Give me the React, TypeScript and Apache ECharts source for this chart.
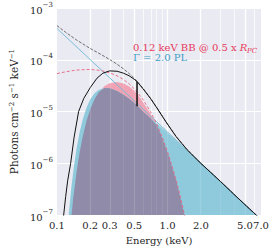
import React, { useEffect, useRef } from "react";
import * as echarts from "echarts";

const FONT = "'DejaVu Serif', serif";
const INK = "#262626";

// x tick labels / grid lines (keV)
const tickEnergies = [0.1, 0.2, 0.3, 0.5, 1.0, 2.0, 5.0, 7.0];
const majorGridEnergies = [0.2, 0.3, 0.5, 1, 2, 5];
const minorGridEnergies = [0.4, 0.6, 0.7, 0.8, 0.9, 3, 4, 6];
const yDecades = [1e-6, 1e-5, 1e-4];

// Gamma = 2 power law, unabsorbed (thin blue line)
const plE = [0.1, 0.3, 1, 3, 7];
const plUnabs = [4.03e-4, 4.48e-5, 4.03e-6, 4.48e-7, 8.2e-8];

// 0.12 keV blackbody, unabsorbed (pink dashed)
const bbE = [0.1, 0.12, 0.15, 0.2, 0.25, 0.3, 0.35, 0.4, 0.45, 0.5, 0.6, 0.7, 0.8, 0.9, 1.0, 1.1, 1.2, 1.3, 1.4, 1.5];
const bbUnabs = [5.4e-5, 5.87e-5, 6.33e-5, 6.52e-5, 6.2e-5, 5.6e-5, 4.9e-5, 4.15e-5, 3.42e-5, 2.76e-5, 1.71e-5, 1.0e-5, 5.7e-6, 3.1e-6, 1.68e-6, 8.8e-7, 4.6e-7, 2.33e-7, 1.17e-7, 5.9e-8];

// total unabsorbed (grey dashed)
const totE = [0.1, 0.12, 0.15, 0.2, 0.25, 0.3, 0.35, 0.4, 0.45, 0.5, 0.6, 0.7, 0.8, 0.9, 1.0, 1.2, 1.5, 2, 3, 5, 7];
const totUnabs = [4.57e-4, 3.39e-4, 2.42e-4, 1.65e-4, 1.27e-4, 1.01e-4, 8.2e-5, 6.67e-5, 5.4e-5, 4.37e-5, 2.83e-5, 1.82e-5, 1.2e-5, 8.1e-6, 5.7e-6, 3.26e-6, 1.85e-6, 1.0e-6, 4.5e-7, 1.6e-7, 8.2e-8];

// total absorbed (black)
const absE = [0.112, 0.115, 0.12, 0.125, 0.133, 0.143, 0.157, 0.175, 0.2, 0.23, 0.26, 0.3, 0.35, 0.4, 0.45, 0.5, 0.53, 0.53, 0.53, 0.6, 0.7, 0.8, 0.9, 1.0, 1.2, 1.5, 2.0, 3.0, 4.0, 5.0, 6.0, 7.0];
const absTotal = [6e-8, 1.0e-7, 2.3e-7, 4.6e-7, 1.0e-6, 3.2e-6, 1.0e-5, 1.8e-5, 2.9e-5, 4.4e-5, 5.5e-5, 6.1e-5, 6.0e-5, 5.5e-5, 4.9e-5, 4.2e-5, 3.8e-5, 1.27e-5, 3.8e-5, 2.75e-5, 1.8e-5, 1.18e-5, 8.0e-6, 5.7e-6, 3.25e-6, 1.84e-6, 1.0e-6, 4.5e-7, 2.5e-7, 1.6e-7, 1.12e-7, 8.2e-8];

// absorbed components (filled)
const fillE = [0.12, 0.127, 0.135, 0.14, 0.15, 0.16, 0.17, 0.185, 0.2, 0.22, 0.24, 0.27, 0.3, 0.35, 0.4, 0.45, 0.5, 0.53, 0.6, 0.7, 0.8, 0.9, 1.0, 1.2, 1.42, 1.5, 2, 3, 4, 5, 6, 7];
const plAbs = [2.0e-8, 9.0e-8, 3.4e-7, 6.6e-7, 1.84e-6, 3.9e-6, 6.7e-6, 1.19e-5, 1.72e-5, 2.29e-5, 2.65e-5, 2.86e-5, 2.81e-5, 2.49e-5, 2.1e-5, 1.76e-5, 1.48e-5, 1.33e-5, 1.0e-5, 7.5e-6, 5.9e-6, 4.76e-6, 3.9e-6, 2.74e-6, 1.98e-6, 1.77e-6, 1.0e-6, 4.48e-7, 2.52e-7, 1.61e-7, 1.12e-7, 8.2e-8];
const bbAbs = [4e-9, 2.2e-8, 9.3e-8, 2.0e-7, 6.5e-7, 1.59e-6, 3.1e-6, 6.6e-6, 1.11e-5, 1.77e-5, 2.39e-5, 3.11e-5, 3.52e-5, 3.71e-5, 3.47e-5, 3.03e-5, 2.53e-5, 2.24e-5, 1.52e-5, 9.2e-6, 5.4e-6, 2.96e-6, 1.62e-6, 4.5e-7, 1.0e-7, 5.8e-8, 2e-9, 1e-9, 1e-9, 1e-9, 1e-9, 1e-9];

const lx = (e: number) => Math.log10(e);
const pts = (es: number[], vs: number[]) => es.map((e, i) => [lx(e), vs[i]]);

export default function App() {
  const ref = useRef<HTMLDivElement>(null);
  useEffect(() => {
    if (!ref.current) return;
    const chart = echarts.init(ref.current, undefined, { renderer: "svg" });
    const overlap = plAbs.map((v, i) => Math.min(v, bbAbs[i]));
    const vLines = (color: string, majorW: number, minorW: number) => [
      ...majorGridEnergies.map((e) => ({ xAxis: lx(e), lineStyle: { color, width: majorW, type: "solid" } })),
      ...minorGridEnergies.map((e) => ({ xAxis: lx(e), lineStyle: { color, width: minorW, type: "solid" } })),
    ];
    const hLines = (color: string) => yDecades.map((v) => ({ yAxis: v, lineStyle: { color, width: 1.2, type: "solid" } }));
    const fill = (name: string, vs: number[], color: string, z: number) => ({
      name,
      type: "line",
      data: pts(fillE, vs),
      symbol: "none",
      lineStyle: { width: 0 },
      areaStyle: { color, opacity: 1, origin: "start" },
      z,
      silent: true,
    });
    const line = (name: string, es: number[], vs: number[], color: string, width: number, type: any, z: number) => ({
      name,
      type: "line",
      data: pts(es, vs),
      symbol: "none",
      lineStyle: { color, width, type },
      z,
      silent: true,
    });
    const supRich = {
      b: { fontFamily: FONT, fontSize: 10, color: INK, verticalAlign: "bottom", lineHeight: 14 },
      s: { fontFamily: FONT, fontSize: 7, color: INK, verticalAlign: "top", lineHeight: 8 },
    };
    chart.setOption({
      animation: false,
      grid: { left: 45, right: 13, top: 8, bottom: 31, show: true, backgroundColor: "#EAEAF2", borderWidth: 0 },
      xAxis: {
        type: "value",
        min: -1,
        max: Math.log10(7),
        axisLine: { show: false },
        axisTick: { show: false },
        splitLine: { show: false },
        axisLabel: {
          customValues: tickEnergies.map(lx),
          showMinLabel: true,
          showMaxLabel: true,
          formatter: (v: number) => Math.pow(10, v).toFixed(1),
          fontFamily: FONT,
          fontSize: 10,
          color: INK,
          margin: 5,
        },
        name: "Energy (keV)",
        nameLocation: "middle",
        nameGap: 15,
        nameTextStyle: { fontFamily: FONT, fontSize: 10, color: INK },
      },
      yAxis: {
        type: "log",
        logBase: 10,
        min: 1e-7,
        max: 1e-3,
        axisLine: { show: false },
        axisTick: { show: false },
        splitLine: { show: true, lineStyle: { color: "#ffffff", width: 1.2 } },
        axisLabel: {
          formatter: (v: number) => "{b|10}{s|−" + Math.round(-Math.log10(v)) + "}",
          rich: supRich,
          margin: 4,
        },
        name: "Photons cm{s|−2} s{s|−1} keV{s|−1}",
        nameLocation: "middle",
        nameGap: 32,
        nameRotate: 90,
        nameTextStyle: {
          fontFamily: FONT,
          fontSize: 10.5,
          color: INK,
          rich: {
            b: { fontFamily: FONT, fontSize: 10.5, color: INK, verticalAlign: "bottom", lineHeight: 14 },
            s: { fontFamily: FONT, fontSize: 7, color: INK, verticalAlign: "top", lineHeight: 8 },
          },
        },
      },
      series: [
        {
          name: "grid",
          type: "line",
          data: [],
          z: 1,
          silent: true,
          markLine: { z: 1, silent: true, symbol: ["none", "none"], label: { show: false }, data: vLines("#ffffff", 1.3, 0.7) },
        },
        fill("BB absorbed", bbAbs, "#F0A3B4", 2),
        fill("PL absorbed", plAbs, "#8FC9DC", 2),
        fill("overlap", overlap, "#8F8BA8", 2),
        {
          name: "grid faint",
          type: "line",
          data: [],
          z: 3,
          silent: true,
          markLine: {
            z: 3,
            silent: true,
            symbol: ["none", "none"],
            label: { show: false },
            data: [...vLines("rgba(255,255,255,0.13)", 1.3, 0.7), ...hLines("rgba(255,255,255,0.13)")],
          },
        },
        line("PL", plE, plUnabs, "#6DB9D6", 0.9, "solid", 4),
        line("BB", bbE, bbUnabs, "#E8637F", 0.9, [3, 2], 4),
        line("total unabsorbed", totE, totUnabs, "#4a4a4a", 0.8, [3, 1.5], 5),
        line("total absorbed", absE, absTotal, "#111111", 1, "solid", 6),
      ],
      graphic: [
        {
          type: "text",
          left: 133,
          top: 42,
          z: 10,
          style: {
            text: "0.12 keV BB @ 0.5 x {i|R}",
            fill: "#E6395B",
            fontFamily: FONT,
            fontSize: 10,
            lineHeight: 10,
            rich: {
              i: { fontFamily: FONT, fontSize: 10, fontStyle: "italic", fill: "#E6395B", lineHeight: 10 },
            },
          },
        },
        {
          type: "text",
          left: 247,
          top: 47,
          z: 10,
          style: { text: "PC", fill: "#E6395B", fontFamily: FONT, fontSize: 7, fontStyle: "italic", lineHeight: 7 },
        },
        {
          type: "text",
          left: 133,
          top: 52,
          z: 10,
          style: { text: "Γ = 2.0 PL", fill: "#3E9DC5", fontFamily: FONT, fontSize: 10, lineHeight: 10 },
        },
      ],
    });
    return () => chart.dispose();
  }, []);
  return <div ref={ref} style={{ position: "absolute", left: 0, top: 0, width: 274, height: 250 }} />;
}
